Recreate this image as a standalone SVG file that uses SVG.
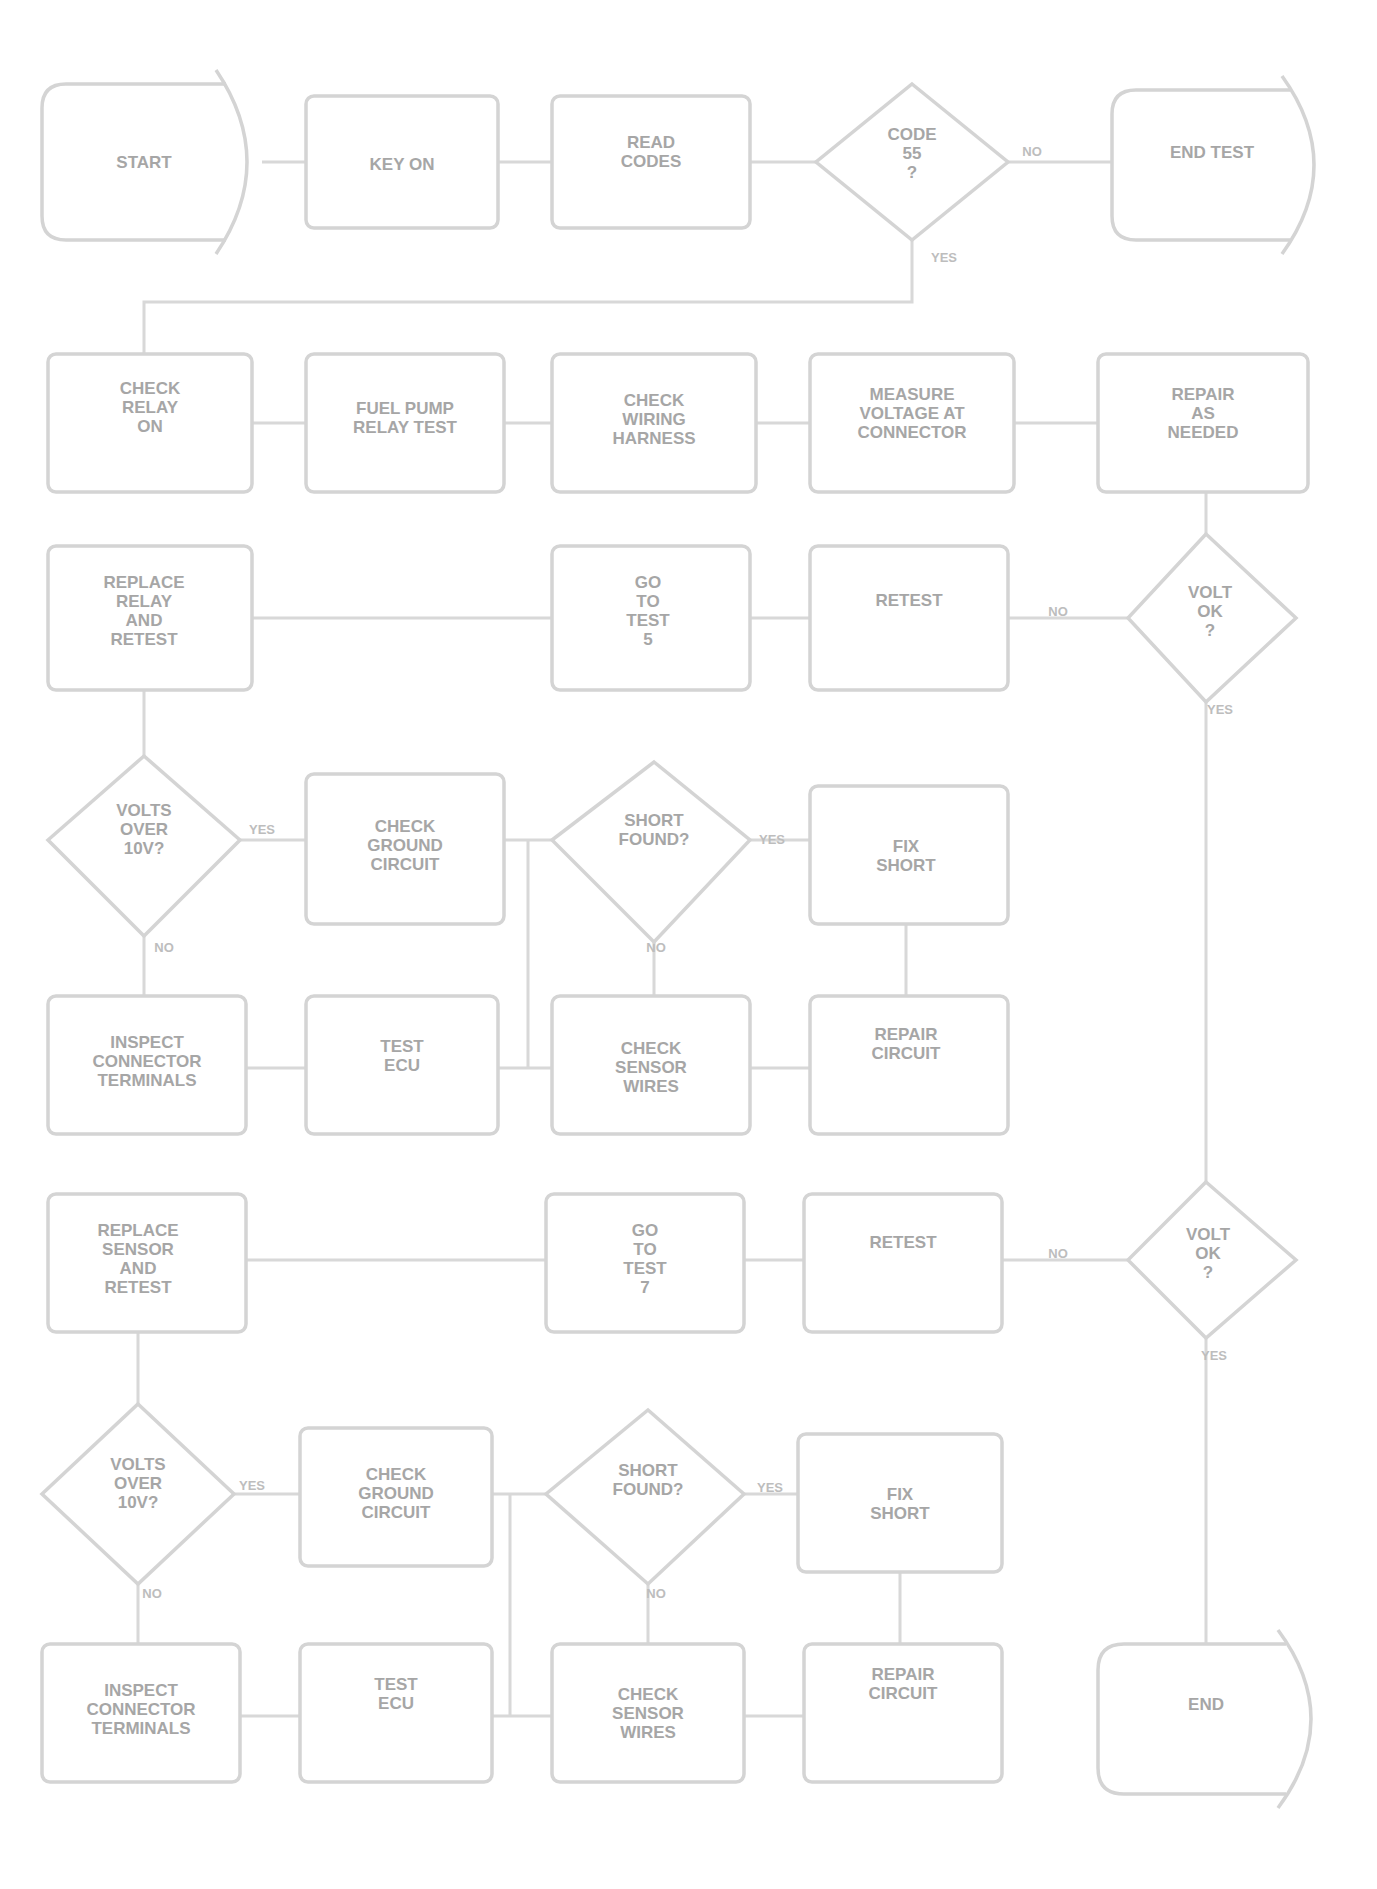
<svg xmlns="http://www.w3.org/2000/svg" width="1377" height="1889" viewBox="0 0 1377 1889">
<style>
.box{fill:none;stroke:#d4d4d4;stroke-width:3.5}
.c{fill:none;stroke:#d8d8d8;stroke-width:3}
.t{font-family:"Liberation Sans",Arial,sans-serif;font-weight:bold;font-size:17px;fill:#a6a6a6;text-anchor:middle}
.l{font-family:"Liberation Sans",Arial,sans-serif;font-weight:bold;font-size:13px;fill:#bdbdbd;text-anchor:middle}
</style>
<rect width="1377" height="1889" fill="#ffffff"/>
<g id="connectors">
<path class="c" d="M262 162H306M498 162H552M750 162H816M1008 162H1112"/>
<path class="c" d="M912 240V302H144V354"/>
<path class="c" d="M252 423H306M504 423H552M756 423H810M1014 423H1098"/>
<path class="c" d="M1206 492V534M144 690V756"/>
<path class="c" d="M252 618H552M750 618H810M1008 618H1128"/>
<path class="c" d="M1206 702V1182"/>
<path class="c" d="M240 840H306M504 840H552M750 840H810M528 840V1068"/>
<path class="c" d="M144 936V996M654 942V996M906 924V996"/>
<path class="c" d="M246 1068H306M498 1068H552M750 1068H810"/>
<path class="c" d="M246 1260H546M744 1260H804M1002 1260H1128"/>
<path class="c" d="M1206 1338V1644M138 1332V1404"/>
<path class="c" d="M234 1494H300M492 1494H546M744 1494H798M510 1494V1716"/>
<path class="c" d="M138 1584V1644M648 1584V1644M900 1572V1644"/>
<path class="c" d="M240 1716H300M492 1716H552M744 1716H804"/>
<text class="l" x="1032" y="156">NO</text>
<text class="l" x="944" y="262">YES</text>
<text class="l" x="1058" y="616">NO</text>
<text class="l" x="1220" y="714">YES</text>
<text class="l" x="262" y="834">YES</text>
<text class="l" x="164" y="952">NO</text>
<text class="l" x="772" y="844">YES</text>
<text class="l" x="656" y="952">NO</text>
<text class="l" x="1058" y="1258">NO</text>
<text class="l" x="1214" y="1360">YES</text>
<text class="l" x="252" y="1490">YES</text>
<text class="l" x="152" y="1598">NO</text>
<text class="l" x="770" y="1492">YES</text>
<text class="l" x="656" y="1598">NO</text>
</g>
<g id="n1"><path class="box" d="M66 84H226M226 240H66Q42 240 42 216V108Q42 84 66 84"/><path class="box" d="M216 70Q278 162 216 254"/><text class="t" x="144" y="168">START</text></g>
<g id="n2"><rect class="box" x="306" y="96" width="192" height="132" rx="8"/><text class="t" x="402" y="170" font-size="20">KEY ON</text></g>
<g id="n3"><rect class="box" x="552" y="96" width="198" height="132" rx="8"/><text class="t" x="651" y="148">READ</text><text class="t" x="651" y="167">CODES</text></g>
<g id="n4"><path class="box" d="M912 84L1008 162L912 240L816 162Z"/><text class="t" x="912" y="140">CODE</text><text class="t" x="912" y="159">55</text><text class="t" x="912" y="178">?</text></g>
<g id="n5"><path class="box" d="M1136 90H1290M1290 240H1136Q1112 240 1112 216V114Q1112 90 1136 90"/><path class="box" d="M1282 76Q1346 165 1282 254"/><text class="t" x="1212" y="158">END TEST</text></g>
<g id="n6"><rect class="box" x="48" y="354" width="204" height="138" rx="8"/><text class="t" x="150" y="394">CHECK</text><text class="t" x="150" y="413">RELAY</text><text class="t" x="150" y="432">ON</text></g>
<g id="n7"><rect class="box" x="306" y="354" width="198" height="138" rx="8"/><text class="t" x="405" y="414">FUEL PUMP</text><text class="t" x="405" y="433">RELAY TEST</text></g>
<g id="n8"><rect class="box" x="552" y="354" width="204" height="138" rx="8"/><text class="t" x="654" y="406">CHECK</text><text class="t" x="654" y="425">WIRING</text><text class="t" x="654" y="444">HARNESS</text></g>
<g id="n9"><rect class="box" x="810" y="354" width="204" height="138" rx="8"/><text class="t" x="912" y="400">MEASURE</text><text class="t" x="912" y="419">VOLTAGE AT</text><text class="t" x="912" y="438">CONNECTOR</text></g>
<g id="n10"><rect class="box" x="1098" y="354" width="210" height="138" rx="8"/><text class="t" x="1203" y="400">REPAIR</text><text class="t" x="1203" y="419">AS</text><text class="t" x="1203" y="438">NEEDED</text></g>
<g id="n11"><rect class="box" x="48" y="546" width="204" height="144" rx="8"/><text class="t" x="144" y="588">REPLACE</text><text class="t" x="144" y="607">RELAY</text><text class="t" x="144" y="626">AND</text><text class="t" x="144" y="645">RETEST</text></g>
<g id="n12"><rect class="box" x="552" y="546" width="198" height="144" rx="8"/><text class="t" x="648" y="588">GO</text><text class="t" x="648" y="607">TO</text><text class="t" x="648" y="626">TEST</text><text class="t" x="648" y="645">5</text></g>
<g id="n13"><rect class="box" x="810" y="546" width="198" height="144" rx="8"/><text class="t" x="909" y="606">RETEST</text></g>
<g id="n14"><path class="box" d="M1206 534L1296 618L1206 702L1128 618Z"/><text class="t" x="1210" y="598">VOLT</text><text class="t" x="1210" y="617">OK</text><text class="t" x="1210" y="636">?</text></g>
<g id="n15"><path class="box" d="M144 756L240 840L144 936L48 840Z"/><text class="t" x="144" y="816">VOLTS</text><text class="t" x="144" y="835">OVER</text><text class="t" x="144" y="854">10V?</text></g>
<g id="n16"><rect class="box" x="306" y="774" width="198" height="150" rx="8"/><text class="t" x="405" y="832">CHECK</text><text class="t" x="405" y="851">GROUND</text><text class="t" x="405" y="870">CIRCUIT</text></g>
<g id="n17"><path class="box" d="M654 762L750 840L654 942L552 840Z"/><text class="t" x="654" y="826">SHORT</text><text class="t" x="654" y="845">FOUND?</text></g>
<g id="n18"><rect class="box" x="810" y="786" width="198" height="138" rx="8"/><text class="t" x="906" y="852">FIX</text><text class="t" x="906" y="871">SHORT</text></g>
<g id="n19"><rect class="box" x="48" y="996" width="198" height="138" rx="8"/><text class="t" x="147" y="1048">INSPECT</text><text class="t" x="147" y="1067">CONNECTOR</text><text class="t" x="147" y="1086">TERMINALS</text></g>
<g id="n20"><rect class="box" x="306" y="996" width="192" height="138" rx="8"/><text class="t" x="402" y="1052">TEST</text><text class="t" x="402" y="1071">ECU</text></g>
<g id="n21"><rect class="box" x="552" y="996" width="198" height="138" rx="8"/><text class="t" x="651" y="1054">CHECK</text><text class="t" x="651" y="1073">SENSOR</text><text class="t" x="651" y="1092">WIRES</text></g>
<g id="n22"><rect class="box" x="810" y="996" width="198" height="138" rx="8"/><text class="t" x="906" y="1040">REPAIR</text><text class="t" x="906" y="1059">CIRCUIT</text></g>
<g id="n23"><rect class="box" x="48" y="1194" width="198" height="138" rx="8"/><text class="t" x="138" y="1236">REPLACE</text><text class="t" x="138" y="1255">SENSOR</text><text class="t" x="138" y="1274">AND</text><text class="t" x="138" y="1293">RETEST</text></g>
<g id="n24"><rect class="box" x="546" y="1194" width="198" height="138" rx="8"/><text class="t" x="645" y="1236">GO</text><text class="t" x="645" y="1255">TO</text><text class="t" x="645" y="1274">TEST</text><text class="t" x="645" y="1293">7</text></g>
<g id="n25"><rect class="box" x="804" y="1194" width="198" height="138" rx="8"/><text class="t" x="903" y="1248">RETEST</text></g>
<g id="n26"><path class="box" d="M1206 1182L1296 1260L1206 1338L1128 1260Z"/><text class="t" x="1208" y="1240">VOLT</text><text class="t" x="1208" y="1259">OK</text><text class="t" x="1208" y="1278">?</text></g>
<g id="n27"><path class="box" d="M138 1404L234 1494L138 1584L42 1494Z"/><text class="t" x="138" y="1470">VOLTS</text><text class="t" x="138" y="1489">OVER</text><text class="t" x="138" y="1508">10V?</text></g>
<g id="n28"><rect class="box" x="300" y="1428" width="192" height="138" rx="8"/><text class="t" x="396" y="1480">CHECK</text><text class="t" x="396" y="1499">GROUND</text><text class="t" x="396" y="1518">CIRCUIT</text></g>
<g id="n29"><path class="box" d="M648 1410L744 1494L648 1584L546 1494Z"/><text class="t" x="648" y="1476">SHORT</text><text class="t" x="648" y="1495">FOUND?</text></g>
<g id="n30"><rect class="box" x="798" y="1434" width="204" height="138" rx="8"/><text class="t" x="900" y="1500">FIX</text><text class="t" x="900" y="1519">SHORT</text></g>
<g id="n31"><rect class="box" x="42" y="1644" width="198" height="138" rx="8"/><text class="t" x="141" y="1696">INSPECT</text><text class="t" x="141" y="1715">CONNECTOR</text><text class="t" x="141" y="1734">TERMINALS</text></g>
<g id="n32"><rect class="box" x="300" y="1644" width="192" height="138" rx="8"/><text class="t" x="396" y="1690">TEST</text><text class="t" x="396" y="1709">ECU</text></g>
<g id="n33"><rect class="box" x="552" y="1644" width="192" height="138" rx="8"/><text class="t" x="648" y="1700">CHECK</text><text class="t" x="648" y="1719">SENSOR</text><text class="t" x="648" y="1738">WIRES</text></g>
<g id="n34"><rect class="box" x="804" y="1644" width="198" height="138" rx="8"/><text class="t" x="903" y="1680">REPAIR</text><text class="t" x="903" y="1699">CIRCUIT</text></g>
<g id="n35"><path class="box" d="M1124 1644H1286M1286 1794H1124Q1098 1794 1098 1768V1670Q1098 1644 1124 1644"/><path class="box" d="M1278 1630Q1344 1719 1278 1808"/><text class="t" x="1206" y="1710">END</text></g>
</svg>
